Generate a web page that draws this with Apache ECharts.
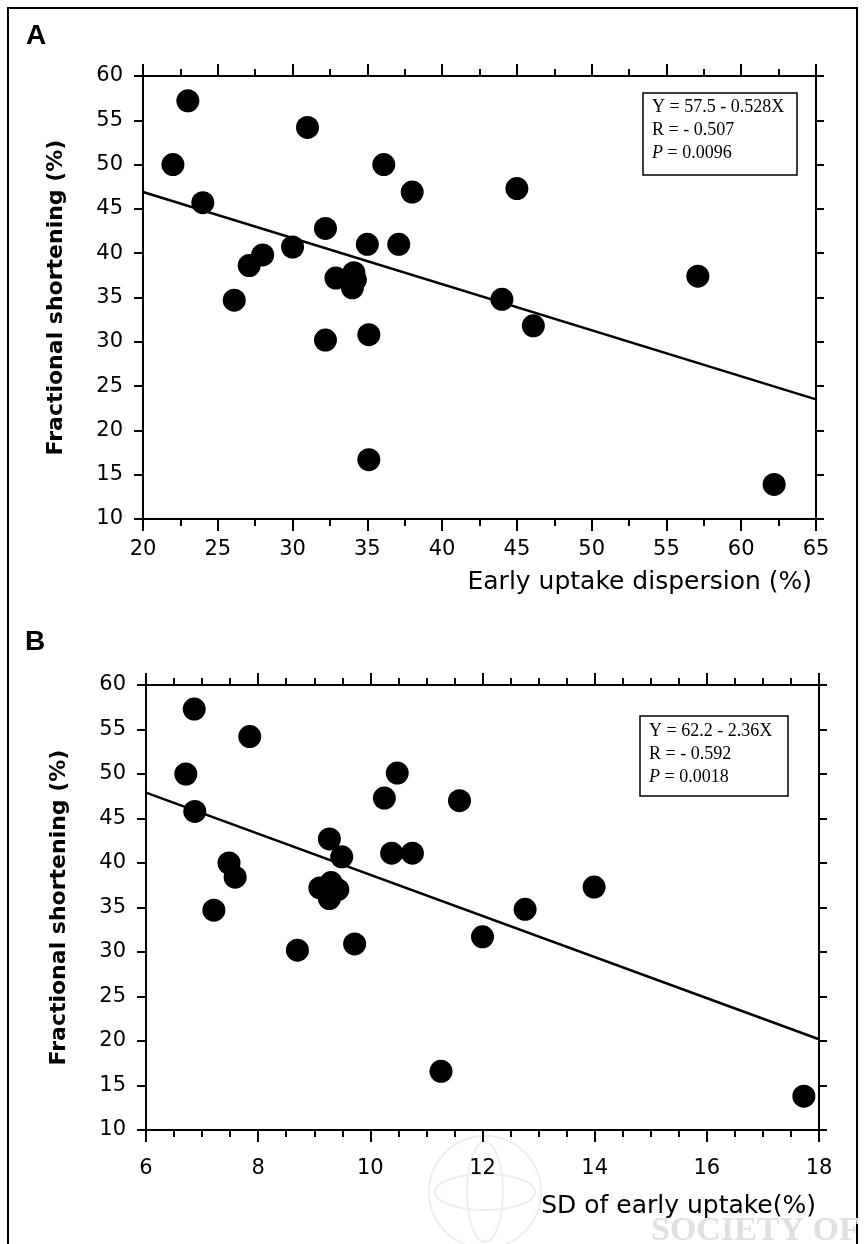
<!DOCTYPE html>
<html>
<head>
<meta charset="utf-8">
<script src="https://cdn.jsdelivr.net/npm/echarts@6/dist/echarts.min.js"></script>
<style>
html,body{margin:0;padding:0;background:#fff;}
#chart{width:865px;height:1244px;}
</style>
</head>
<body>
<div id="chart"></div>
<script>
// Panel A: Early uptake dispersion (%) vs Fractional shortening (%)
var dispersionA = [22.0, 23.0, 24.0, 31.0, 36.1, 38.0, 45.0, 32.2, 30.0, 28.0, 27.1, 26.1, 35.0, 37.1, 32.9, 34.1, 34.2, 34.0, 32.2, 35.1, 35.1, 44.0, 46.1, 57.1, 62.2];
var fsA        = [50.0, 57.2, 45.7, 54.2, 50.0, 46.9, 47.3, 42.8, 40.7, 39.8, 38.6, 34.7, 41.0, 41.0, 37.2, 37.8, 37.0, 36.1, 30.2, 30.8, 16.7, 34.8, 31.8, 37.4, 13.9];
var fitLineA   = [[20, 46.9], [65, 23.5]];
var statsA     = ["Y = 57.5 - 0.528X", "R = - 0.507", "0.0096"];

// Panel B: SD of early uptake (%) vs Fractional shortening (%)
var sdB        = [6.71, 6.86, 6.87, 7.85, 10.48, 11.59, 10.25, 9.27, 9.49, 7.48, 7.59, 7.21, 10.38, 10.75, 9.10, 9.30, 9.42, 9.27, 8.70, 9.72, 11.26, 12.76, 12.00, 13.99, 17.73];
var fsB        = [50.0, 57.3, 45.8, 54.2, 50.1, 47.0, 47.3, 42.7, 40.7, 40.0, 38.4, 34.7, 41.1, 41.1, 37.2, 37.8, 37.0, 36.0, 30.2, 30.9, 16.6, 34.8, 31.7, 37.3, 13.8];
var fitLineB   = [[6, 47.9], [18, 20.2]];
var statsB     = ["Y = 62.2 - 2.36X", "R = - 0.592", "0.0018"];

var xTitleA = "Early uptake dispersion (%)";
var xTitleB = "SD of early uptake(%)";
var yTitle  = "Fractional shortening (%)";

function pairs(xs, ys){ return xs.map(function(x,i){ return [x, ys[i]]; }); }

var tickFont = {fontFamily:'DejaVu Sans', fontSize:21, color:'#000'};
var axisLineStyle = {lineStyle:{color:'#000', width:2}};

function bottomAxis(grid, min, max, interval, minorSplit, margin){
  return {type:'value', gridIndex:grid, position:'bottom', min:min, max:max, interval:interval,
    axisLine:axisLineStyle,
    axisTick:{show:true, length:12, lineStyle:{color:'#000', width:2}},
    minorTick:{show:true, splitNumber:minorSplit, length:7, lineStyle:{color:'#000', width:2}},
    axisLabel:Object.assign({margin:margin}, tickFont),
    splitLine:{show:false}, minorSplitLine:{show:false}};
}
function topAxis(grid, min, max, interval, minorSplit){
  return {type:'value', gridIndex:grid, position:'top', min:min, max:max, interval:interval,
    axisLine:axisLineStyle,
    axisTick:{show:true, length:12, lineStyle:{color:'#000', width:2}},
    minorTick:{show:true, splitNumber:minorSplit, length:7, lineStyle:{color:'#000', width:2}},
    axisLabel:{show:false}, splitLine:{show:false}};
}
function leftAxis(grid){
  return {type:'value', gridIndex:grid, position:'left', min:10, max:60, interval:5,
    axisLine:axisLineStyle,
    axisTick:{show:true, length:9, lineStyle:{color:'#000', width:2}},
    axisLabel:Object.assign({margin:20}, tickFont),
    splitLine:{show:false},
    name:yTitle, nameLocation:'middle', nameGap:76, nameRotate:90,
    nameTextStyle:{fontFamily:'DejaVu Sans', fontSize:22, fontWeight:'bold', color:'#000'}};
}
function rightAxis(grid){
  return {type:'value', gridIndex:grid, position:'right', min:10, max:60, interval:5,
    axisLine:axisLineStyle,
    axisTick:{show:true, length:8, lineStyle:{color:'#000', width:2}},
    axisLabel:{show:false}, splitLine:{show:false}};
}

function statsBox(x, y, w, h, lines, lineGap, firstOffset){
  var children = [{type:'rect', shape:{x:0, y:0, width:w, height:h},
    style:{fill:'#fff', stroke:'#000', lineWidth:1.5}}];
  var txtStyle = {fontFamily:'Liberation Serif', fontSize:18, fill:'#000', textVerticalAlign:'middle'};
  children.push({type:'text', x:9, y:firstOffset, style:Object.assign({text:lines[0]}, txtStyle)});
  children.push({type:'text', x:9, y:firstOffset+lineGap, style:Object.assign({text:lines[1]}, txtStyle)});
  children.push({type:'text', x:9, y:firstOffset+2*lineGap, style:Object.assign({
    text:'{i|P} = ' + lines[2],
    rich:{i:{fontStyle:'italic', fontFamily:'Liberation Serif', fontSize:18, fill:'#000'}}}, txtStyle)});
  return {type:'group', x:x, y:y, children:children};
}

var chart = echarts.init(document.getElementById('chart'), null, {renderer:'canvas'});
chart.setOption({
  animation:false,
  backgroundColor:'#fff',
  grid:[
    {left:143, top:76, width:673, height:443},
    {left:146, top:685, width:673, height:445}
  ],
  xAxis:[
    bottomAxis(0, 20, 65, 5, 2, 20),
    topAxis(0, 20, 65, 5, 2),
    bottomAxis(1, 6, 18, 2, 4, 28),
    topAxis(1, 6, 18, 2, 4)
  ],
  yAxis:[
    leftAxis(0), rightAxis(0), leftAxis(1), rightAxis(1)
  ],
  series:[
    {type:'line', xAxisIndex:0, yAxisIndex:0, data:fitLineA, showSymbol:false, symbol:'none',
      lineStyle:{color:'#000', width:2.5}, z:2},
    {type:'scatter', xAxisIndex:0, yAxisIndex:0, data:pairs(dispersionA, fsA), symbolSize:23,
      itemStyle:{color:'#000', opacity:1}, z:3},
    {type:'line', xAxisIndex:2, yAxisIndex:2, data:fitLineB, showSymbol:false, symbol:'none',
      lineStyle:{color:'#000', width:2.5}, z:2},
    {type:'scatter', xAxisIndex:2, yAxisIndex:2, data:pairs(sdB, fsB), symbolSize:23,
      itemStyle:{color:'#000', opacity:1}, z:3}
  ],
  graphic:[
    {type:'rect', shape:{x:8, y:8, width:849, height:1260}, style:{fill:'none', stroke:'#000', lineWidth:2}, z:-10},
    // faint watermark
    {type:'group', x:485, y:1192, z:-5, children:[
      {type:'circle', shape:{cx:0, cy:0, r:56}, style:{fill:'none', stroke:'#eeeeee', lineWidth:2}},
      {type:'ellipse', shape:{cx:0, cy:0, rx:50, ry:18}, style:{fill:'none', stroke:'#eeeeee', lineWidth:2}},
      {type:'ellipse', shape:{cx:0, cy:0, rx:18, ry:50}, style:{fill:'none', stroke:'#eeeeee', lineWidth:2}}
    ]},
    {type:'text', x:651, y:1214, z:-5, style:{text:'SOCIETY OF', fontFamily:'Liberation Serif', fontSize:34, fontWeight:'bold', fill:'#e0e0e0'}},
    {type:'text', x:26, y:22, style:{text:'A', fontFamily:'Liberation Sans', fontSize:28, fontWeight:'bold', fill:'#000'}},
    {type:'text', x:25, y:628, style:{text:'B', fontFamily:'Liberation Sans', fontSize:28, fontWeight:'bold', fill:'#000'}},
    {type:'text', x:812, y:582, style:{text:xTitleA, fontFamily:'DejaVu Sans', fontSize:25, fill:'#000', textAlign:'right', textVerticalAlign:'middle'}},
    {type:'text', x:816, y:1206, style:{text:xTitleB, fontFamily:'DejaVu Sans', fontSize:25, fill:'#000', textAlign:'right', textVerticalAlign:'middle'}},
    statsBox(643, 93, 154, 82, statsA, 23, 14),
    statsBox(640, 716, 148, 80, statsB, 23, 15)
  ]
});
</script>
</body>
</html>
